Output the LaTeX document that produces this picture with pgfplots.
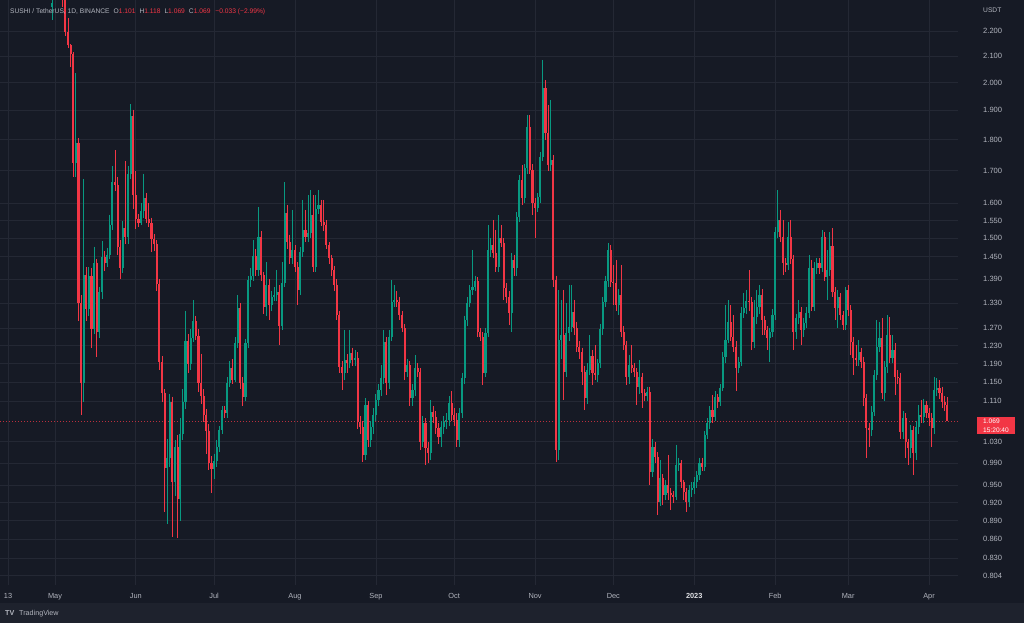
\documentclass[border=0pt]{standalone}
\usepackage{pgfplots}
\pgfplotsset{compat=1.18}
\usepackage{pgfplotstable}
\usepackage{fontspec}
\setmainfont{Liberation Sans}
\definecolor{bg}{RGB}{22,26,37}
\definecolor{bgbar}{RGB}{30,34,45}
\definecolor{gridc}{RGB}{36,40,52}
\definecolor{lab}{RGB}{178,181,190}
\definecolor{upc}{RGB}{8,153,129}
\definecolor{dnc}{RGB}{242,54,69}
\pgfplotstableread{
d o h l c
-1 2.298 2.332 2.245 2.316
0 2.341 2.448 2.336 2.416
1 2.416 2.513 2.384 2.470
2 2.470 2.530 2.405 2.448
3 2.448 2.491 2.298 2.362
4 2.362 2.384 2.180 2.195
5 2.195 2.253 2.131 2.144
6 2.144 2.148 2.060 2.110
7 2.110 2.116 1.680 1.724
8 1.724 2.035 1.680 1.790
9 1.790 1.804 1.286 1.330
10 1.330 1.350 1.082 1.147
11 1.147 1.674 1.109 1.401
12 1.401 1.422 1.286 1.317
13 1.317 1.422 1.299 1.398
14 1.398 1.420 1.224 1.269
15 1.269 1.477 1.257 1.434
16 1.434 1.443 1.205 1.260
17 1.260 1.371 1.247 1.357
18 1.357 1.492 1.340 1.448
19 1.448 1.464 1.412 1.434
20 1.434 1.474 1.422 1.454
21 1.454 1.567 1.443 1.537
22 1.537 1.713 1.522 1.663
23 1.663 1.765 1.636 1.654
24 1.654 1.680 1.454 1.477
25 1.477 1.495 1.392 1.420
26 1.420 1.548 1.407 1.529
27 1.529 1.730 1.485 1.502
28 1.502 1.713 1.485 1.690
29 1.690 1.922 1.672 1.881
30 1.881 1.903 1.584 1.625
31 1.625 1.697 1.527 1.553
32 1.553 1.568 1.531 1.543
33 1.543 1.600 1.536 1.578
34 1.578 1.690 1.558 1.615
35 1.615 1.631 1.542 1.553
36 1.553 1.600 1.531 1.543
37 1.543 1.558 1.463 1.498
38 1.498 1.511 1.464 1.483
39 1.483 1.495 1.360 1.379
40 1.379 1.391 1.175 1.193
41 1.193 1.206 1.109 1.126
42 1.126 1.134 0.905 0.981
43 0.981 1.035 0.885 1.000
44 1.000 1.124 0.982 1.109
45 1.109 1.119 0.863 0.956
46 0.956 1.033 0.931 1.020
47 1.020 1.043 0.861 0.927
48 0.927 1.076 0.890 1.045
49 1.045 1.134 1.033 1.109
50 1.109 1.312 1.093 1.241
51 1.241 1.257 1.170 1.189
52 1.189 1.268 1.175 1.248
53 1.248 1.338 1.237 1.286
54 1.286 1.299 1.242 1.253
55 1.253 1.268 1.129 1.147
56 1.147 1.212 1.104 1.120
57 1.120 1.134 1.068 1.082
58 1.082 1.093 1.006 1.051
59 1.051 1.063 0.977 0.990
60 0.990 1.002 0.936 0.979
61 0.979 1.007 0.961 0.994
62 0.994 1.033 0.982 1.020
63 1.020 1.060 1.010 1.052
64 1.052 1.100 1.045 1.092
65 1.092 1.100 1.075 1.086
66 1.086 1.160 1.075 1.148
67 1.148 1.195 1.140 1.180
68 1.180 1.200 1.145 1.154
69 1.154 1.250 1.150 1.236
70 1.236 1.350 1.225 1.318
71 1.318 1.330 1.135 1.148
72 1.148 1.160 1.100 1.118
73 1.118 1.245 1.110 1.236
74 1.236 1.400 1.225 1.388
75 1.388 1.420 1.370 1.399
76 1.399 1.495 1.385 1.451
77 1.451 1.470 1.400 1.414
78 1.414 1.589 1.400 1.503
79 1.503 1.520 1.385 1.401
80 1.401 1.410 1.305 1.321
81 1.321 1.435 1.300 1.376
82 1.376 1.390 1.289 1.326
83 1.326 1.360 1.310 1.345
84 1.345 1.370 1.335 1.350
85 1.350 1.414 1.335 1.358
86 1.358 1.375 1.231 1.275
87 1.275 1.435 1.265 1.381
88 1.381 1.664 1.370 1.572
89 1.572 1.595 1.470 1.490
90 1.490 1.510 1.430 1.446
91 1.446 1.580 1.430 1.468
92 1.468 1.480 1.410 1.422
93 1.422 1.435 1.326 1.363
94 1.363 1.475 1.350 1.462
95 1.462 1.609 1.450 1.523
96 1.523 1.580 1.490 1.503
97 1.503 1.625 1.490 1.515
98 1.515 1.640 1.500 1.566
99 1.566 1.625 1.410 1.422
100 1.422 1.625 1.410 1.583
101 1.583 1.640 1.570 1.595
102 1.595 1.610 1.535 1.546
103 1.546 1.609 1.520 1.537
104 1.537 1.550 1.470 1.481
105 1.481 1.490 1.430 1.446
106 1.446 1.455 1.400 1.414
107 1.414 1.425 1.360 1.376
108 1.376 1.390 1.290 1.301
109 1.301 1.310 1.170 1.182
110 1.182 1.195 1.133 1.169
111 1.169 1.266 1.155 1.197
112 1.197 1.210 1.170 1.191
113 1.191 1.266 1.180 1.213
114 1.213 1.225 1.185 1.197
115 1.197 1.220 1.185 1.202
116 1.202 1.215 1.055 1.068
117 1.068 1.080 1.045 1.058
118 1.058 1.070 0.992 1.005
119 1.005 1.116 0.995 1.102
120 1.102 1.110 1.020 1.033
121 1.033 1.070 1.020 1.058
122 1.058 1.095 1.045 1.082
123 1.082 1.125 1.070 1.112
124 1.112 1.145 1.100 1.133
125 1.133 1.187 1.120 1.158
126 1.158 1.266 1.145 1.238
127 1.238 1.250 1.123 1.148
128 1.148 1.265 1.135 1.250
129 1.250 1.388 1.240 1.333
130 1.333 1.376 1.320 1.338
131 1.338 1.360 1.320 1.333
132 1.333 1.345 1.290 1.301
133 1.301 1.310 1.260 1.270
134 1.270 1.280 1.154 1.171
135 1.171 1.200 1.160 1.187
136 1.187 1.195 1.100 1.116
137 1.116 1.145 1.100 1.133
138 1.133 1.209 1.120 1.180
139 1.180 1.190 1.160 1.171
140 1.171 1.180 1.014 1.029
141 1.029 1.080 1.020 1.066
142 1.066 1.075 0.986 1.018
143 1.018 1.030 0.990 1.008
144 1.008 1.112 0.995 1.088
145 1.088 1.100 1.065 1.078
146 1.078 1.090 1.045 1.056
147 1.056 1.065 1.025 1.039
148 1.039 1.070 1.020 1.058
149 1.058 1.080 1.045 1.068
150 1.068 1.085 1.055 1.072
151 1.072 1.120 1.060 1.106
152 1.106 1.130 1.070 1.082
153 1.082 1.095 1.060 1.072
154 1.072 1.085 1.020 1.033
155 1.033 1.095 1.020 1.086
156 1.086 1.170 1.075 1.158
157 1.158 1.300 1.145 1.289
158 1.289 1.345 1.275 1.331
159 1.331 1.375 1.320 1.363
160 1.363 1.468 1.350 1.371
161 1.371 1.400 1.360 1.386
162 1.386 1.395 1.250 1.261
163 1.261 1.270 1.240 1.250
164 1.250 1.260 1.144 1.169
165 1.169 1.270 1.160 1.259
166 1.259 1.537 1.250 1.468
167 1.468 1.500 1.450 1.481
168 1.481 1.551 1.445 1.460
169 1.460 1.523 1.410 1.422
170 1.422 1.566 1.410 1.500
171 1.500 1.537 1.475 1.487
172 1.487 1.500 1.338 1.368
173 1.368 1.380 1.330 1.345
174 1.345 1.360 1.278 1.306
175 1.306 1.460 1.260 1.441
176 1.441 1.455 1.400 1.420
177 1.420 1.575 1.400 1.560
178 1.560 1.685 1.545 1.670
179 1.670 1.717 1.595 1.616
180 1.616 1.720 1.600 1.708
181 1.708 1.884 1.690 1.842
182 1.842 1.884 1.690 1.701
183 1.701 1.720 1.566 1.601
184 1.601 1.615 1.500 1.586
185 1.586 1.630 1.575 1.619
186 1.619 1.760 1.600 1.743
187 1.743 2.085 1.730 1.980
188 1.980 2.009 1.800 1.822
189 1.822 1.919 1.700 1.717
190 1.717 1.936 1.700 1.733
191 1.733 1.750 1.370 1.388
192 1.388 1.400 0.992 1.014
193 1.014 1.363 0.995 1.243
194 1.243 1.338 1.200 1.254
195 1.254 1.363 1.112 1.171
196 1.171 1.330 1.160 1.259
197 1.259 1.376 1.240 1.273
198 1.273 1.376 1.260 1.309
199 1.309 1.338 1.255 1.270
200 1.270 1.285 1.215 1.227
201 1.227 1.240 1.200 1.215
202 1.215 1.225 1.144 1.171
203 1.171 1.185 1.092 1.116
204 1.116 1.190 1.105 1.176
205 1.176 1.254 1.165 1.206
206 1.206 1.220 1.144 1.169
207 1.169 1.231 1.155 1.165
208 1.165 1.200 1.150 1.191
209 1.191 1.280 1.180 1.268
210 1.268 1.345 1.255 1.333
211 1.333 1.400 1.320 1.386
212 1.386 1.487 1.370 1.468
213 1.468 1.480 1.370 1.383
214 1.383 1.428 1.326 1.381
215 1.381 1.441 1.310 1.326
216 1.326 1.365 1.301 1.350
217 1.350 1.428 1.250 1.261
218 1.261 1.275 1.220 1.231
219 1.231 1.240 1.144 1.161
220 1.161 1.209 1.145 1.187
221 1.187 1.231 1.170 1.180
222 1.180 1.190 1.160 1.171
223 1.171 1.180 1.102 1.139
224 1.139 1.197 1.125 1.161
225 1.161 1.170 1.096 1.127
226 1.127 1.135 1.110 1.120
227 1.120 1.140 1.110 1.129
228 1.129 1.140 0.951 0.974
229 0.974 1.035 0.965 1.020
230 1.020 1.030 0.990 1.001
231 1.001 1.010 0.899 0.921
232 0.921 0.995 0.915 0.963
233 0.963 0.970 0.916 0.933
234 0.933 0.960 0.925 0.951
235 0.951 1.005 0.925 0.937
236 0.937 0.945 0.908 0.933
237 0.933 0.940 0.920 0.930
238 0.930 1.024 0.925 0.986
239 0.986 1.000 0.975 0.990
240 0.990 0.995 0.945 0.956
241 0.956 0.960 0.925 0.938
242 0.938 0.945 0.904 0.921
243 0.921 0.950 0.912 0.942
244 0.942 0.955 0.930 0.945
245 0.945 0.965 0.935 0.956
246 0.956 0.975 0.945 0.968
247 0.968 1.000 0.960 0.990
248 0.990 1.000 0.975 0.983
249 0.983 1.050 0.975 1.043
250 1.043 1.075 1.035 1.066
251 1.066 1.100 1.055 1.092
252 1.092 1.123 1.065 1.078
253 1.078 1.130 1.070 1.118
254 1.118 1.125 1.095 1.108
255 1.108 1.145 1.100 1.137
256 1.137 1.215 1.130 1.204
257 1.204 1.326 1.190 1.243
258 1.243 1.338 1.235 1.285
259 1.285 1.326 1.240 1.250
260 1.250 1.301 1.215 1.227
261 1.227 1.240 1.130 1.180
262 1.180 1.205 1.170 1.193
263 1.193 1.320 1.185 1.306
264 1.306 1.356 1.295 1.318
265 1.318 1.363 1.305 1.336
266 1.336 1.414 1.310 1.333
267 1.333 1.345 1.220 1.238
268 1.238 1.338 1.225 1.297
269 1.297 1.363 1.280 1.321
270 1.321 1.376 1.305 1.350
271 1.350 1.365 1.254 1.289
272 1.289 1.300 1.255 1.266
273 1.266 1.275 1.220 1.247
274 1.247 1.270 1.193 1.261
275 1.261 1.315 1.250 1.301
276 1.301 1.530 1.290 1.517
277 1.517 1.640 1.500 1.551
278 1.551 1.580 1.490 1.503
279 1.503 1.551 1.401 1.433
280 1.433 1.445 1.410 1.428
281 1.428 1.546 1.415 1.503
282 1.503 1.551 1.430 1.443
283 1.443 1.455 1.220 1.261
284 1.261 1.305 1.245 1.294
285 1.294 1.338 1.280 1.309
286 1.309 1.320 1.231 1.266
287 1.266 1.295 1.250 1.282
288 1.282 1.320 1.270 1.306
289 1.306 1.454 1.295 1.420
290 1.420 1.441 1.310 1.321
291 1.321 1.435 1.310 1.420
292 1.420 1.445 1.405 1.433
293 1.433 1.445 1.405 1.420
294 1.420 1.523 1.410 1.503
295 1.503 1.517 1.385 1.396
296 1.396 1.468 1.338 1.414
297 1.414 1.517 1.400 1.479
298 1.479 1.528 1.345 1.358
299 1.358 1.370 1.289 1.318
300 1.318 1.363 1.270 1.345
301 1.345 1.355 1.290 1.301
302 1.301 1.310 1.265 1.278
303 1.278 1.371 1.265 1.363
304 1.363 1.375 1.300 1.313
305 1.313 1.325 1.209 1.238
306 1.238 1.250 1.165 1.202
307 1.202 1.231 1.185 1.197
308 1.197 1.243 1.185 1.215
309 1.215 1.225 1.180 1.193
310 1.193 1.205 1.100 1.116
311 1.116 1.125 1.000 1.056
312 1.056 1.065 1.020 1.052
313 1.052 1.100 1.040 1.088
314 1.088 1.175 1.080 1.165
315 1.165 1.289 1.155 1.227
316 1.227 1.285 1.215 1.247
317 1.247 1.294 1.115 1.127
318 1.127 1.195 1.110 1.182
319 1.182 1.301 1.170 1.254
320 1.254 1.297 1.190 1.202
321 1.202 1.254 1.190 1.220
322 1.220 1.235 1.123 1.161
323 1.161 1.175 1.145 1.158
324 1.158 1.170 1.035 1.048
325 1.048 1.090 1.035 1.076
326 1.076 1.085 1.000 1.029
327 1.029 1.035 0.986 1.018
328 1.018 1.062 1.000 1.052
329 1.052 1.060 0.968 1.009
330 1.009 1.070 0.995 1.058
331 1.058 1.102 1.045 1.082
332 1.082 1.112 1.065 1.078
333 1.078 1.115 1.065 1.102
334 1.102 1.110 1.075 1.086
335 1.086 1.095 1.060 1.076
336 1.076 1.085 1.020 1.056
337 1.056 1.161 1.045 1.133
338 1.133 1.158 1.120 1.137
339 1.137 1.154 1.115 1.127
340 1.127 1.140 1.095 1.108
341 1.108 1.120 1.090 1.101
342 1.101 1.118 1.069 1.069
}\data
\pgfplotsset{
  candle/.style 2 args={draw=none, mark=none, forget plot,
    error bars/.cd, y dir=minus, y explicit, error mark=none,
    error bar style={draw=#1, line width=#2}},
}
\begin{document}
\begin{tikzpicture}[x=1bp,y=1bp]
\useasboundingbox (0,-38) rectangle (1024,585);
\fill[bg] (0,-38) rectangle (1024,585);
\fill[bgbar] (0,-38) rectangle (1024,-18);
\begin{axis}[at={(0,0)}, anchor=south west, scale only axis,
  width=958bp, height=585bp,
  ymode=log, xmin=-21.08, xmax=346.1, ymin=0.7901, ymax=2.3298,
  axis line style={draw=none}, major tick length=0pt,
  ytick={0.804,0.83,0.86,0.89,0.92,0.95,0.99,1.03,1.11,1.15,1.19,1.23,1.27,1.33,1.39,1.45,1.5,1.55,1.6,1.7,1.8,1.9,2.0,2.1,2.2},
  yticklabels={0.804,0.830,0.860,0.890,0.920,0.950,0.990,1.030,1.110,1.150,1.190,1.230,1.270,1.330,1.390,1.450,1.500,1.550,1.600,1.700,1.800,1.900,2.000,2.100,2.200},
  yticklabel pos=right,
  yticklabel style={font=\fontsize{7.6}{8}\selectfont, text=lab, anchor=west, inner sep=0pt, xshift=25bp},
  xtick={-18,0,31,61,92,123,153,184,214,245,276,304,335},
  xticklabels={13,May,Jun,Jul,Aug,Sep,Oct,Nov,Dec,{\textcolor{lab!40!white}{\textbf{2023}}},Feb,Mar,Apr},
  xticklabel style={font=\fontsize{7.4}{8}\selectfont, text=lab, anchor=base, inner sep=0pt, yshift=-14bp},
  grid=major, major grid style={gridc, line width=0.8bp},
]
\draw[dnc!75!bg, line width=0.8bp, dash pattern=on 1bp off 2bp] (axis cs:-21.08,1.069) -- (axis cs:346.1,1.069);
% wicks (candles of the other colour are lifted far above the view and have no length)
\addplot[candle={upc}{0.9bp}]
  table[x=d, y expr={\thisrow{h}*(1+20*(\thisrow{c}<\thisrow{o}))},
        y error minus expr={(\thisrow{h}-\thisrow{l})*(\thisrow{c}>=\thisrow{o})}] {\data};
\addplot[candle={dnc}{0.9bp}]
  table[x=d, y expr={\thisrow{h}*(1+20*(\thisrow{c}>=\thisrow{o}))},
        y error minus expr={(\thisrow{h}-\thisrow{l})*(\thisrow{c}<\thisrow{o})}] {\data};
% bodies
\addplot[candle={upc}{2.1bp}]
  table[x=d, y expr={\thisrow{c}*(1+20*(\thisrow{c}<\thisrow{o}))},
        y error minus expr={(\thisrow{c}-\thisrow{o})*(\thisrow{c}>=\thisrow{o})}] {\data};
\addplot[candle={dnc}{2.1bp}]
  table[x=d, y expr={\thisrow{o}*(1+20*(\thisrow{c}>=\thisrow{o}))},
        y error minus expr={(\thisrow{o}-\thisrow{c})*(\thisrow{c}<\thisrow{o})}] {\data};
\end{axis}
% header
\node[anchor=base west, inner sep=0pt, font=\fontsize{6.7}{7}\selectfont, text=lab] at (10,571.5)
  {SUSHI / TetherUS, 1D, BINANCE\hspace{4bp}O\textcolor{dnc}{1.101}\hspace{4bp}H\textcolor{dnc}{1.118}\hspace{4bp}L\textcolor{dnc}{1.069}\hspace{4bp}C\textcolor{dnc}{1.069}\hspace{5bp}\textcolor{dnc}{−0.033 (−2.99\%)}};
\node[anchor=base west, inner sep=0pt, font=\fontsize{6.7}{7}\selectfont, text=lab] at (983,572.5) {USDT};
% current price box
\fill[dnc] (977,151) rectangle (1015,168);
\node[anchor=base west, inner sep=0pt, font=\fontsize{6.6}{7}\selectfont, text=white] at (983,161.5) {1.069};
\node[anchor=base west, inner sep=0pt, font=\fontsize{6.6}{7}\selectfont, text=white] at (983,152.8) {15:20:40};
% bottom bar
\node[anchor=base west, inner sep=0pt, font=\fontsize{7.2}{8}\bfseries\selectfont, text=lab] at (5,-30.5) {TV};
\node[anchor=base west, inner sep=0pt, font=\fontsize{7.2}{8}\selectfont, text=lab] at (19,-30.5) {TradingView};
\end{tikzpicture}
\end{document}
